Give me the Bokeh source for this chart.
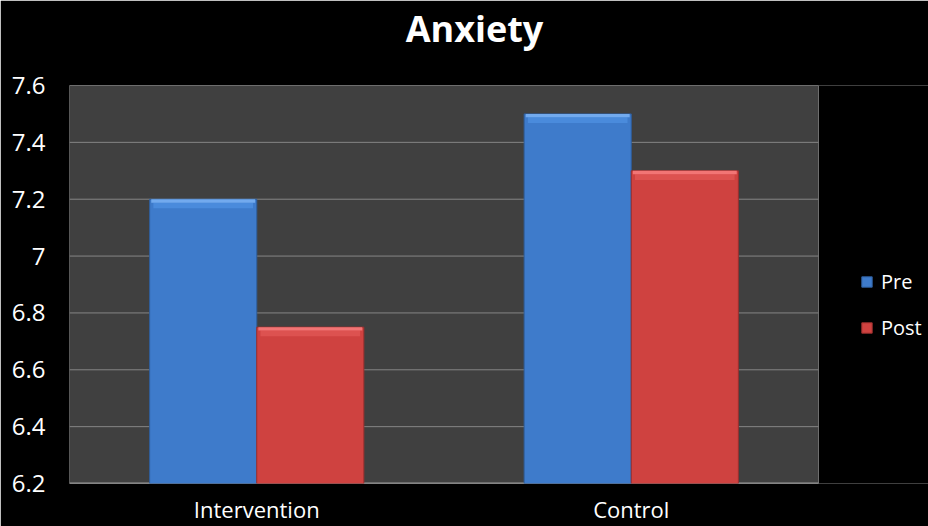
from bokeh.plotting import figure
from bokeh.models import ColumnDataSource, Range1d, FixedTicker, Legend, LegendItem, LinearAxis
from bokeh.embed import file_html
from bokeh.resources import INLINE

categories = ["Intervention", "Control"]
series = ["Pre", "Post"]
pre = [7.2, 7.5]
post = [6.75, 7.3]
y_ticks = [6.2, 6.4, 6.6, 6.8, 7.0, 7.2, 7.4, 7.6]
y_tick_labels = ["6.2", "6.4", "6.6", "6.8", "7", "7.2", "7.4", "7.6"]
title_text = "Anxiety"

FONT = "Open Sans"
BAR_W = 0.286
Y0, Y1 = 6.2, 7.6
LEFT_PX, AREA_PX, RIGHT_PX = 69, 749, 110   # left margin, gray plot area, legend zone (pixels)
TITLE_CENTER_PX = 474
n = len(categories)
x_end = n * (AREA_PX + RIGHT_PX) / AREA_PX
title_x = n * (TITLE_CENTER_PX - LEFT_PX) / AREA_PX

pos = [i + 0.5 for i in range(n)]
src = ColumnDataSource(dict(
    xpre=[c - BAR_W / 2 for c in pos], xpost=[c + BAR_W / 2 for c in pos],
    pre=pre, post=post,
    pre_hi=[v - 0.012 for v in pre], post_hi=[v - 0.012 for v in post],
    pre_mid=[v - 0.032 for v in pre], post_mid=[v - 0.032 for v in post],
))

p = figure(width=928, height=526, x_range=Range1d(0, x_end), y_range=Range1d(Y0, Y1),
           output_backend="svg", toolbar_location=None,
           min_border_left=LEFT_PX, min_border_right=0, min_border_top=85, min_border_bottom=43)

p.background_fill_color = "#000000"
p.border_fill_color = "#000000"
p.outline_line_color = None

# plot area
p.quad(left=0, right=n, bottom=Y0, top=Y1, fill_color="#404040", line_color="#6e6e6e", line_width=1)
p.segment(x0=[0] * len(y_ticks), x1=[n] * len(y_ticks), y0=y_ticks, y1=y_ticks,
          line_color="#858585", line_width=1)
p.segment(x0=[0], x1=[n], y0=[Y0], y1=[Y0], line_color="#9a9a9a", line_width=2)

r_pre = p.vbar(x="xpre", top="pre", bottom=Y0, width=BAR_W,
               source=src, fill_color="#3E7BCB", line_color="#2f5f9e", line_width=1)
r_post = p.vbar(x="xpost", top="post", bottom=Y0, width=BAR_W,
                source=src, fill_color="#CF4240", line_color="#9c2f2e", line_width=1)
# bevel highlights
p.vbar(x="xpre", top="pre_hi", bottom="pre_mid", width=BAR_W * 0.93,
       source=src, fill_color="#4A8BDC", line_color=None)
p.vbar(x="xpost", top="post_hi", bottom="post_mid", width=BAR_W * 0.93,
       source=src, fill_color="#DD5250", line_color=None)
p.vbar(x="xpre", top="pre", bottom="pre_hi", width=BAR_W * 0.97,
       source=src, fill_color="#72AAEE", line_color=None)
p.vbar(x="xpost", top="post", bottom="post_hi", width=BAR_W * 0.97,
       source=src, fill_color="#F27575", line_color=None)

p.xgrid.grid_line_color = None
p.ygrid.grid_line_color = None

p.yaxis.ticker = FixedTicker(ticks=y_ticks)
p.yaxis.major_label_overrides = {t: l for t, l in zip(y_ticks, y_tick_labels)}
p.yaxis.axis_line_color = None
p.yaxis.major_tick_line_color = None
p.yaxis.minor_tick_line_color = None
p.yaxis.major_label_text_color = "#ffffff"
p.yaxis.major_label_text_font = FONT
p.yaxis.major_label_text_font_size = "24px"
p.yaxis.major_label_standoff = 18

p.xaxis.ticker = FixedTicker(ticks=pos)
p.xaxis.major_label_overrides = {c: l for c, l in zip(pos, categories)}
p.xaxis.axis_line_color = None
p.xaxis.major_tick_line_color = None
p.xaxis.major_tick_out = 0
p.xaxis.major_tick_in = 0
p.xaxis.minor_tick_line_color = None
p.xaxis.major_label_text_color = "#ffffff"
p.xaxis.major_label_text_font = FONT
p.xaxis.major_label_text_font_size = "22px"
p.xaxis.major_label_standoff = 10

# chart title, drawn as the single label of an axis above the plot
title_axis = LinearAxis(ticker=FixedTicker(ticks=[title_x]),
                        major_label_overrides={title_x: title_text})
title_axis.axis_line_color = None
title_axis.major_tick_line_color = None
title_axis.major_tick_out = 0
title_axis.major_tick_in = 0
title_axis.minor_tick_line_color = None
title_axis.major_label_text_color = "#ffffff"
title_axis.major_label_text_font = FONT
title_axis.major_label_text_font_style = "bold"
title_axis.major_label_text_font_size = "36px"
title_axis.major_label_standoff = 33
p.add_layout(title_axis, "above")

legend = Legend(items=[LegendItem(label=series[0], renderers=[r_pre]),
                       LegendItem(label=series[1], renderers=[r_post])],
                location=(791, 142), orientation="vertical")
legend.background_fill_alpha = 0
legend.border_line_color = None
legend.padding = 0
legend.margin = 0
legend.spacing = 19
legend.glyph_width = 13
legend.glyph_height = 13
legend.label_height = 24
legend.label_standoff = 8
legend.label_text_color = "#ffffff"
legend.label_text_font = FONT
legend.label_text_font_size = "20px"
p.add_layout(legend, "center")

open("out.html", "w").write(file_html(p, INLINE))
